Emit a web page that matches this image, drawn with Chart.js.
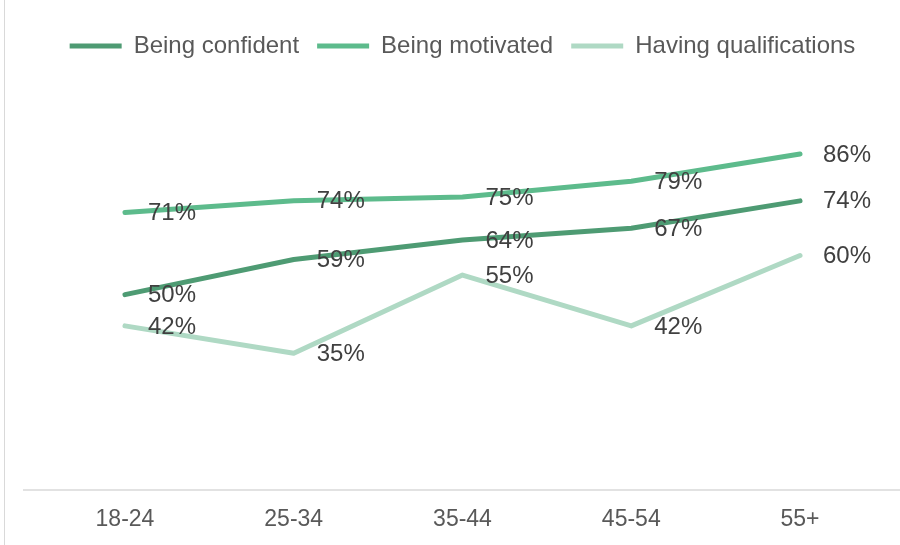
<!DOCTYPE html>
<html>
<head>
<meta charset="utf-8">
<script src="https://cdn.jsdelivr.net/npm/chart.js@4.4.1/dist/chart.umd.min.js"></script>
<style>
  html, body { margin: 0; padding: 0; background: #fff; }
  #wrap { position: relative; width: 900px; height: 545px; }
  #edge { position: absolute; left: 4px; top: 0; width: 1px; height: 545px; background: #d9d9d9; }
</style>
</head>
<body>
<div id="wrap">
  <canvas id="myChart" width="900" height="545"></canvas>
  <div id="edge"></div>
</div>
<script>
// age bands along the x axis
const ageGroups = ['18-24', '25-34', '35-44', '45-54', '55+'];

// series (percent)
const beingConfident = [50, 59, 64, 67, 74];
const beingMotivated = [71, 74, 75, 79, 86];
const havingQualifications = [42, 35, 55, 42, 60];

const seriesNames = ['Being confident', 'Being motivated', 'Having qualifications'];
const seriesColors = ['#4e9b73', '#5dbb8c', '#afd9c4'];

const FONT = "'Liberation Sans', Arial, sans-serif";

// percent labels to the right of each point
const pointLabels = {
    id: 'pointLabels',
    afterDatasetsDraw(chart) {
        const ctx = chart.ctx;
        ctx.save();
        ctx.font = '24px ' + FONT;
        ctx.fillStyle = '#404040';
        ctx.textAlign = 'left';
        ctx.textBaseline = 'middle';
        chart.data.datasets.forEach((ds, i) => {
            chart.getDatasetMeta(i).data.forEach((pt, j) => {
                ctx.fillText(ds.data[j] + '%', pt.x + 23, pt.y + 1);
            });
        });
        ctx.restore();
    }
};

// horizontal axis line running across the whole plot
const baseLine = {
    id: 'baseLine',
    beforeDatasetsDraw(chart) {
        const ctx = chart.ctx;
        const y = chart.scales.y.getPixelForValue(0);
        ctx.save();
        ctx.strokeStyle = '#d9d9d9';
        ctx.lineWidth = 1.5;
        ctx.beginPath();
        ctx.moveTo(23, y);
        ctx.lineTo(900, y);
        ctx.stroke();
        ctx.restore();
    }
};

const lineSet = (label, values, color) => ({
    label: label,
    data: values,
    borderColor: color,
    backgroundColor: color,
    borderWidth: 5,
    borderCapStyle: 'round',
    borderJoinStyle: 'round',
    pointRadius: 0,
    pointHoverRadius: 0,
    tension: 0
});

var ctx = document.getElementById('myChart').getContext('2d');
var myChart = new Chart(ctx, {
    type: 'line',
    data: {
        labels: ageGroups,
        datasets: [
            lineSet(seriesNames[0], beingConfident, seriesColors[0]),
            lineSet(seriesNames[1], beingMotivated, seriesColors[1]),
            lineSet(seriesNames[2], havingQualifications, seriesColors[2])
        ]
    },
    options: {
        responsive: false,
        animation: false,
        layout: {
            padding: { left: 40.6, right: 15.6, top: 16, bottom: 14 }
        },
        plugins: {
            legend: {
                position: 'top',
                labels: {
                    usePointStyle: true,
                    pointStyle: 'line',
                    pointStyleWidth: 52,
                    padding: 18,
                    color: '#595959',
                    font: { family: FONT, size: 24 }
                }
            },
            tooltip: { enabled: false }
        },
        scales: {
            x: {
                offset: true,
                grid: { display: false, drawTicks: false },
                border: { display: false },
                ticks: {
                    padding: 16,
                    color: '#595959',
                    font: { family: FONT, size: 23 }
                },
                afterFit: (scale) => { scale.height = 41; }
            },
            y: {
                display: false,
                min: 0,
                max: 108
            }
        }
    },
    plugins: [baseLine, pointLabels]
});
</script>
</body>
</html>
